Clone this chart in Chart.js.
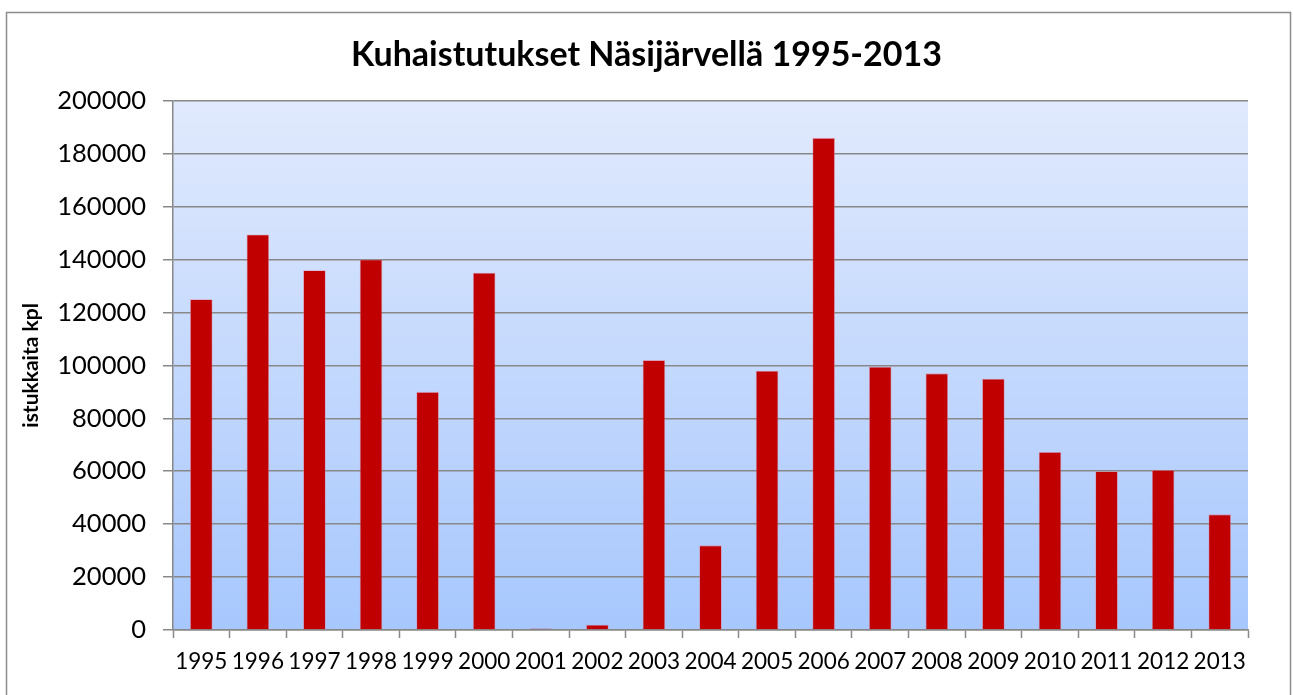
<!DOCTYPE html>
<html>
<head>
<meta charset="utf-8">
<script src="https://cdn.jsdelivr.net/npm/chart.js@4/dist/chart.umd.min.js"></script>
<style>
  html, body { margin: 0; padding: 0; background: #fff; }
  #wrap { width: 1293px; height: 695px; }
</style>
</head>
<body>
<div id="wrap"><canvas id="chart" width="1293" height="695"></canvas></div>
<script>
const years = ['1995', '1996', '1997', '1998', '1999', '2000', '2001', '2002', '2003', '2004',
  '2005', '2006', '2007', '2008', '2009', '2010', '2011', '2012', '2013'];
const stocked = [125000, 149500, 136000, 140000, 90000, 135000, 600, 2000, 102000, 32000,
  98000, 186000, 99500, 97000, 95000, 67300, 60000, 60500, 43700];
const yTicks = [0, 20000, 40000, 60000, 80000, 100000, 120000, 140000, 160000, 180000, 200000];

const FONT = 'Lato, "Open Sans", sans-serif';
const AXIS_GREY = '#888888';

// frame round the whole chart + gradient behind the plot area
const backdrop = {
  id: 'backdrop',
  beforeDraw(chart) {
    const { ctx, chartArea: a } = chart;
    ctx.save();
    ctx.strokeStyle = '#8c8c8c';
    ctx.lineWidth = 1.5;
    ctx.strokeRect(6.5, 12.5, 1284, 700);
    const g = ctx.createLinearGradient(0, a.top, 0, a.bottom);
    g.addColorStop(0, '#e1eafd');
    g.addColorStop(1, '#a7c7fd');
    ctx.fillStyle = g;
    ctx.fillRect(a.left, a.top, a.right - a.left, a.bottom - a.top);
    ctx.restore();
  }
};

new Chart(document.getElementById('chart'), {
  type: 'bar',
  data: {
    labels: years,
    datasets: [{
      label: 'istukkaita kpl',
      data: stocked,
      backgroundColor: '#c00000',
      borderColor: 'rgba(230,120,140,0.6)',
      borderWidth: 0.8,
      barPercentage: 0.4,
      categoryPercentage: 1
    }]
  },
  options: {
    responsive: false,
    animation: false,
    layout: { padding: { top: 35, right: 0, bottom: 0, left: 0 } },
    plugins: {
      legend: { display: false },
      tooltip: { enabled: false },
      title: {
        display: true,
        text: 'Kuhaistutukset Näsijärvellä 1995-2013',
        color: '#000',
        font: { family: FONT, size: 34, weight: 'bold' },
        padding: { top: 0, bottom: 25 }
      }
    },
    scales: {
      x: {
        grid: { display: true, drawOnChartArea: false, offset: true, color: AXIS_GREY, tickLength: 8, tickWidth: 1.5 },
        border: { color: AXIS_GREY, width: 1.5 },
        ticks: { color: '#000', font: { family: FONT, size: 22.5 }, padding: 10, autoSkip: false, maxRotation: 0 },
        afterFit: (s) => { s.height = 65; }
      },
      y: {
        min: 0,
        max: 200000,
        afterBuildTicks: (s) => { s.ticks = yTicks.map((v) => ({ value: v })); },
        grid: { color: AXIS_GREY, lineWidth: 1.5, tickLength: 10 },
        border: { color: AXIS_GREY, width: 1.5 },
        ticks: { color: '#000', font: { family: FONT, size: 25.5 }, padding: 17, callback: (v) => String(v) },
        title: {
          display: true,
          text: 'istukkaita kpl',
          color: '#000',
          font: { family: FONT, size: 21, weight: 'bold' },
          padding: { top: 19, bottom: 0 }
        },
        afterFit: (s) => { s.width = 173; }
      },
      // empty strip on the right so the title stays centred on the whole canvas
      yRight: {
        position: 'right',
        min: 0,
        max: 200000,
        ticks: { display: false },
        grid: { display: false },
        border: { display: false },
        afterFit: (s) => { s.width = 45; }
      }
    }
  },
  plugins: [backdrop]
});
</script>
</body>
</html>
